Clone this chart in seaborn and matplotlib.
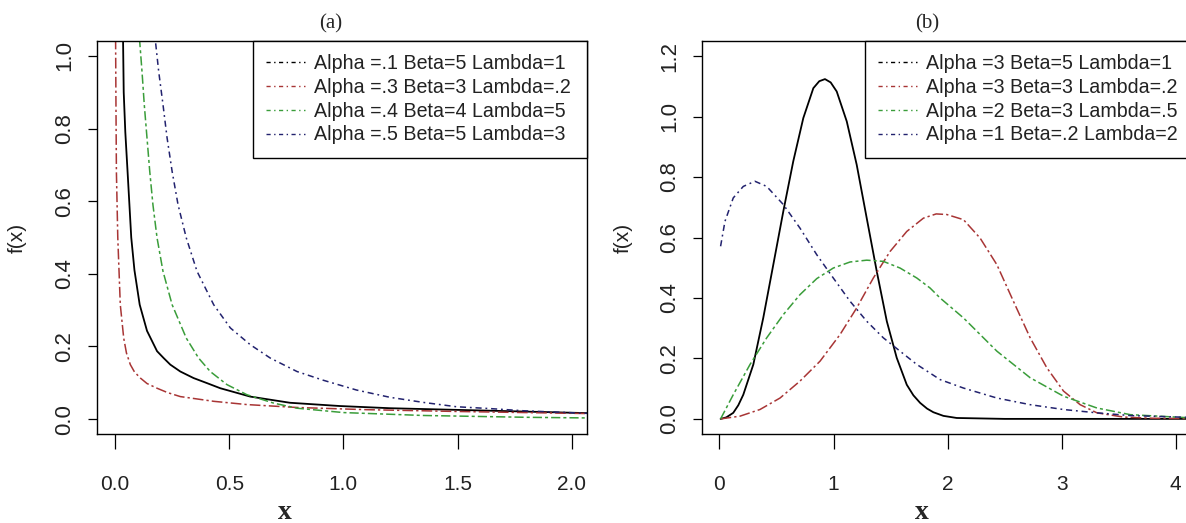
import numpy as np
import pandas as pd
import seaborn as sns
import matplotlib.pyplot as plt
from matplotlib.lines import Line2D

# panel (a): values
a_labels = ['Alpha =.1 Beta=5 Lambda=1', 'Alpha =.3 Beta=3 Lambda=.2',
            'Alpha =.4 Beta=4 Lambda=5', 'Alpha =.5 Beta=5 Lambda=3']
a_black_x = [0.034, 0.038, 0.045, 0.055, 0.063, 0.071, 0.085, 0.108, 0.140, 0.184, 0.213,
             0.242, 0.286, 0.344, 0.403, 0.461, 0.592, 0.766, 0.985, 1.204, 1.524, 2.10]
a_black_y = [1.10, 0.90, 0.79, 0.68, 0.59, 0.50, 0.41, 0.315, 0.243, 0.187, 0.168,
             0.150, 0.131, 0.113, 0.099, 0.085, 0.062, 0.045, 0.036, 0.030, 0.025, 0.016]
a_red_x = [0.002, 0.004, 0.006, 0.012, 0.023, 0.038, 0.050, 0.067, 0.085, 0.111, 0.140,
           0.184, 0.230, 0.286, 0.432, 0.578, 0.797, 1.10, 1.50, 2.10]
a_red_y = [1.10, 0.87, 0.68, 0.50, 0.315, 0.223, 0.182, 0.150, 0.130, 0.113, 0.098,
           0.085, 0.073, 0.062, 0.049, 0.040, 0.032, 0.026, 0.021, 0.015]
a_green_x = [0.100, 0.108, 0.118, 0.128, 0.140, 0.152, 0.166, 0.184, 0.210, 0.250, 0.312,
             0.366, 0.417, 0.490, 0.578, 0.695, 0.797, 1.00, 1.35, 1.80, 2.10]
a_green_y = [1.15, 1.04, 0.958, 0.866, 0.774, 0.682, 0.590, 0.499, 0.407, 0.315, 0.223,
             0.168, 0.131, 0.095, 0.067, 0.044, 0.030, 0.018, 0.010, 0.005, 0.003]
a_blue_x = [0.165, 0.177, 0.191, 0.210, 0.228, 0.250, 0.276, 0.312, 0.359, 0.432, 0.505,
            0.592, 0.680, 0.797, 0.912, 1.058, 1.204, 1.350, 1.496, 1.642, 1.788, 2.10]
a_blue_y = [1.12, 1.04, 0.958, 0.866, 0.774, 0.682, 0.590, 0.499, 0.407, 0.315, 0.251,
            0.205, 0.168, 0.131, 0.107, 0.080, 0.060, 0.046, 0.034, 0.029, 0.023, 0.015]

# panel (b)
b_labels = ['Alpha =3 Beta=5 Lambda=1', 'Alpha =3 Beta=3 Lambda=.2',
            'Alpha =2 Beta=3 Lambda=.5', 'Alpha =1 Beta=.2 Lambda=2']
b_black_x = [0.01, 0.06, 0.121, 0.165, 0.209, 0.297, 0.384, 0.472, 0.560, 0.647, 0.735,
             0.823, 0.875, 0.925, 0.975, 1.028, 1.116, 1.203, 1.291, 1.379, 1.467, 1.554,
             1.642, 1.700, 1.759, 1.820, 1.875, 1.963, 2.08, 2.5, 3.0, 3.5, 4.2]
b_black_y = [0.0, 0.005, 0.020, 0.045, 0.080, 0.180, 0.334, 0.510, 0.687, 0.852, 0.995,
             1.094, 1.117, 1.124, 1.113, 1.083, 0.984, 0.841, 0.664, 0.488, 0.323, 0.202,
             0.113, 0.078, 0.053, 0.034, 0.022, 0.010, 0.003, 0.0, 0.0, 0.0, 0.0]
b_red_x = [0.01, 0.180, 0.355, 0.531, 0.706, 0.882, 1.057, 1.203, 1.349, 1.496, 1.642,
           1.788, 1.90, 1.993, 2.139, 2.285, 2.432, 2.577, 2.724, 2.870, 3.016, 3.162,
           3.309, 3.542, 3.8, 4.2]
b_red_y = [0.0, 0.009, 0.031, 0.069, 0.125, 0.191, 0.279, 0.367, 0.466, 0.554, 0.620,
           0.664, 0.678, 0.676, 0.659, 0.598, 0.510, 0.389, 0.268, 0.169, 0.092, 0.047,
           0.020, 0.006, 0.002, 0.001]
b_green_x = [0.01, 0.121, 0.268, 0.414, 0.560, 0.706, 0.853, 0.998, 1.145, 1.291, 1.437,
             1.583, 1.730, 1.846, 1.934, 2.139, 2.432, 2.724, 3.016, 3.309, 3.601, 4.2]
b_green_y = [0.0, 0.080, 0.180, 0.268, 0.345, 0.411, 0.464, 0.499, 0.519, 0.525, 0.521,
             0.499, 0.466, 0.433, 0.400, 0.334, 0.224, 0.136, 0.075, 0.036, 0.014, 0.002]
b_blue_x = [0.01, 0.048, 0.121, 0.209, 0.311, 0.414, 0.560, 0.706, 0.853, 0.998, 1.145,
            1.291, 1.437, 1.583, 1.730, 1.934, 2.139, 2.432, 2.724, 3.016, 3.309, 3.601, 4.2]
b_blue_y = [0.571, 0.653, 0.731, 0.769, 0.786, 0.769, 0.709, 0.631, 0.543, 0.466, 0.389,
            0.323, 0.268, 0.224, 0.180, 0.130, 0.102, 0.069, 0.047, 0.031, 0.020, 0.011, 0.004]

colors = ['black', '#a83535', '#3a9d3a', '#22226e']
curve_styles = ['-', (0, (7, 2, 1.5, 2)), (0, (6, 2, 2, 2)), (0, (4, 2.5, 1.2, 2.5))]
legend_style = (0, (3, 2.5, 1, 2.5))

sns.set_theme(style='ticks')
plt.rcParams['font.family'] = ['Liberation Sans', 'DejaVu Sans']
plt.rcParams['axes.edgecolor'] = 'black'
plt.rcParams['xtick.color'] = 'black'
plt.rcParams['ytick.color'] = 'black'

fig = plt.figure(figsize=(11.86, 5.23), dpi=100)
ax1 = fig.add_axes([97 / 1186, 1 - 434 / 523, 490 / 1186, 393 / 523])
ax2 = fig.add_axes([702 / 1186, 1 - 434 / 523, 492 / 1186, 393 / 523])


def draw_panel(ax, xs, ys, labels, xlim, ylim, xticks, yticks, leg_x0, lab_x):
    for x, y, c, ls in zip(xs, ys, colors, curve_styles):
        df = pd.DataFrame({'x': x, 'y': y})
        sns.lineplot(data=df, x='x', y='y', ax=ax, color=c, linestyle=ls,
                     lw=1.3 if ls == '-' else 1.1, estimator=None, sort=False)
    ax.set_xlim(*xlim)
    ax.set_ylim(*ylim)
    ax.set_xticks(xticks)
    ax.set_yticks(yticks)
    ax.set_xlabel('')
    ax.set_ylabel('f(x)', fontsize=15, color='#222222')
    ax.yaxis.set_label_coords(lab_x, 0.5)
    for s in ax.spines.values():
        s.set_visible(True)
        s.set_linewidth(1.0)
        s.set_color('black')
    ax.tick_params(axis='x', length=10.5, width=0.9, pad=19, labelsize=15, labelcolor='#222222')
    ax.tick_params(axis='y', length=6.5, width=0.9, pad=9, labelsize=16, labelcolor='#222222')
    handles = [Line2D([], [], color=c, lw=1.0, linestyle=legend_style) for c in colors]
    leg = ax.legend(handles, labels, loc='upper right',
                    bbox_to_anchor=(leg_x0, 0, 1 - leg_x0, 1.0), mode='expand',
                    borderaxespad=0, fontsize=14.1, handlelength=2.0, handletextpad=0.42,
                    labelspacing=0.24, borderpad=0.68, fancybox=False, framealpha=1,
                    edgecolor='black')
    leg.get_frame().set_linewidth(1.0)
    for t in leg.get_texts():
        t.set_color('#222222')


draw_panel(ax1, [a_black_x, a_red_x, a_green_x, a_blue_x],
           [a_black_y, a_red_y, a_green_y, a_blue_y], a_labels,
           (-0.079, 2.067), (-0.041, 1.041),
           [0.0, 0.5, 1.0, 1.5, 2.0], [0.0, 0.2, 0.4, 0.6, 0.8, 1.0], 0.3184, -0.143)
ax1.set_xticklabels(['0.0', '0.5', '1.0', '1.5', '2.0'])
ax1.set_yticklabels(['0.0', '0.2', '0.4', '0.6', '0.8', '1.0'], rotation=90, va='center')

draw_panel(ax2, [b_black_x, b_red_x, b_green_x, b_blue_x],
           [b_black_y, b_red_y, b_green_y, b_blue_y], b_labels,
           (-0.153, 4.16), (-0.05, 1.25),
           [0, 1, 2, 3, 4], [0.0, 0.2, 0.4, 0.6, 0.8, 1.0, 1.2], 0.3313, -0.140)
ax2.set_xticklabels(['0', '1', '2', '3', '4'])
ax2.set_yticklabels(['0.0', '0.2', '0.4', '0.6', '0.8', '1.0', '1.2'], rotation=90, va='center')

serif = ['Liberation Serif', 'DejaVu Serif']
fig.text(331 / 1186, 1 - 24 / 523, '(a)', family=serif, fontsize=15, ha='center', va='center')
fig.text(927 / 1186, 1 - 24 / 523, '(b)', family=serif, fontsize=15, ha='center', va='center')
fig.text(285 / 1186, 4 / 523, 'x', family=serif, fontsize=20, fontweight='bold',
         ha='center', va='baseline')
fig.text(922 / 1186, 4 / 523, 'x', family=serif, fontsize=20, fontweight='bold',
         ha='center', va='baseline')

fig.savefig('out.png', dpi=100)
